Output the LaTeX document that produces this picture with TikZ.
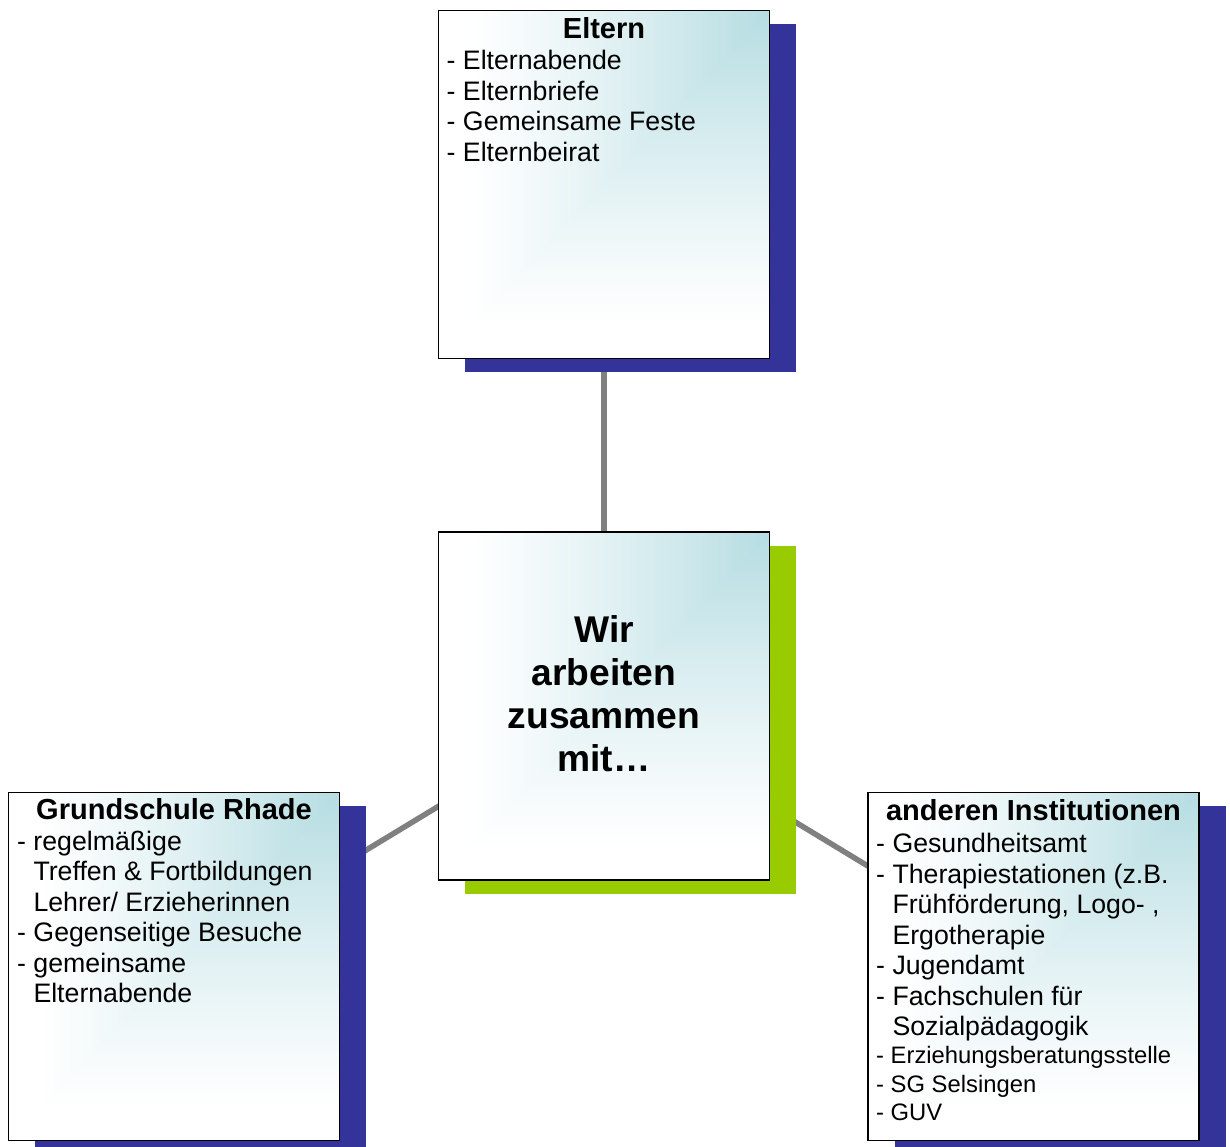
\documentclass[tikz,border=0pt]{standalone}
\usepackage{fontspec}
\setmainfont{Liberation Sans}
\definecolor{shblue}{RGB}{51,51,153}
\definecolor{shgreen}{RGB}{153,204,0}
\definecolor{conngray}{RGB}{128,128,128}
\pgfdeclarefunctionalshading{cornershade}{\pgfpoint{0bp}{0bp}}{\pgfpoint{100bp}{100bp}}{}{
  2 copy gt {exch} if pop 29 sub 46 div
  dup 0 lt {pop 0} if dup 1 gt {pop 1} if
  1.2 exp
  dup 0.29 mul 1 exch sub exch
  dup 0.135 mul 1 exch sub exch
  0.115 mul 1 exch sub
}
\pgfdeclarelayer{bg}
\pgfsetlayers{bg,main}
\begin{document}
\begin{tikzpicture}[x=1pt,y=-1pt,
  box/.style={draw=black, line width=1.5pt, minimum width=331pt, minimum height=348pt,
    inner sep=0pt, outer sep=0pt, shade, shading=cornershade},
  shadowbox/.style={fill=#1, draw=none, minimum width=331pt, minimum height=348pt,
    inner sep=0pt, outer sep=0pt},
  item/.style={anchor=base west, inner sep=0pt, font=\fontsize{26.7}{30}\selectfont},
  smallitem/.style={anchor=base west, inner sep=0pt, font=\fontsize{23.8}{27}\selectfont},
  boxtitle/.style={anchor=base, inner sep=0pt, font=\fontsize{29}{33}\selectfont\bfseries},
  bigtext/.style={anchor=base, inner sep=0pt, font=\fontsize{37.2}{43}\selectfont\bfseries},
  connector/.style={draw=conngray, line width=5.5pt}]
\useasboundingbox (0,0) rectangle (1230,1147);

% shadows
\node[shadowbox=shblue] (sE) at (630.5,198) {};
\node[shadowbox=shgreen] (sC) at (630.5,719.5) {};
\node[shadowbox=shblue] (sL) at (200.5,980) {};
\node[shadowbox=shblue] (sR) at (1060,980) {};

% boxes
\node[box] (eltern) at (604,184.5) {};
\node[box] (ctr) at (604,706) {};
\node[box] (grund) at (174,966.5) {};
\node[box] (inst) at (1033.5,966.5) {};

% connectors
\begin{pgfonlayer}{bg}
\draw[connector] (eltern.center) -- (ctr.center);
\draw[connector] (grund.center) -- (ctr.center);
\draw[connector] (inst.center) -- (ctr.center);
\end{pgfonlayer}

% Eltern
\node[boxtitle] (eT) at (604,38.5) {Eltern};
\node[item] (e1) at (446.5,70) {- Elternabende};
\node[item] (e2) at (446.5,100.5) {- Elternbriefe};
\node[item] (e3) at (446.5,131) {- Gemeinsame Feste};
\node[item] (e4) at (446.5,161.5) {- Elternbeirat};

% center
\node[bigtext] (c1) at (604,642) {Wir};
\node[bigtext] (c2) at (604,685) {arbeiten};
\node[bigtext] (c3) at (604,728) {zusammen};
\node[bigtext] (c4) at (604,771) {mit…};

% Grundschule
\node[boxtitle] (gT) at (174,819.5) {Grundschule Rhade};
\node[item] (g1) at (17,850) {- regelmäßige};
\node[item] (g2) at (17,880.5) {\hphantom{- }Treffen \& Fortbildungen};
\node[item] (g3) at (17,911) {\hphantom{- }Lehrer/ Erzieherinnen};
\node[item] (g4) at (17,941.5) {- Gegenseitige Besuche};
\node[item] (g5) at (17,972) {- gemeinsame};
\node[item] (g6) at (17,1002.5) {\hphantom{- }Elternabende};

% Institutionen
\node[boxtitle] (iT) at (1033.5,820.5) {anderen Institutionen};
\node[item] (i1) at (876,852.5) {- Gesundheitsamt};
\node[item] (i2) at (876,883) {- Therapiestationen (z.B.};
\node[item] (i3) at (876,913.5) {\hphantom{- }Frühförderung, Logo- ,};
\node[item] (i4) at (876,944) {\hphantom{- }Ergotherapie};
\node[item] (i5) at (876,974.5) {- Jugendamt};
\node[item] (i6) at (876,1005) {- Fachschulen für};
\node[item] (i7) at (876,1035.5) {\hphantom{- }Sozialpädagogik};
\node[smallitem] (i8) at (876,1063) {- Erziehungsberatungsstelle};
\node[smallitem] (i9) at (876,1092) {- SG Selsingen};
\node[smallitem] (i10) at (876,1120) {- GUV};
\end{tikzpicture}
\end{document}
